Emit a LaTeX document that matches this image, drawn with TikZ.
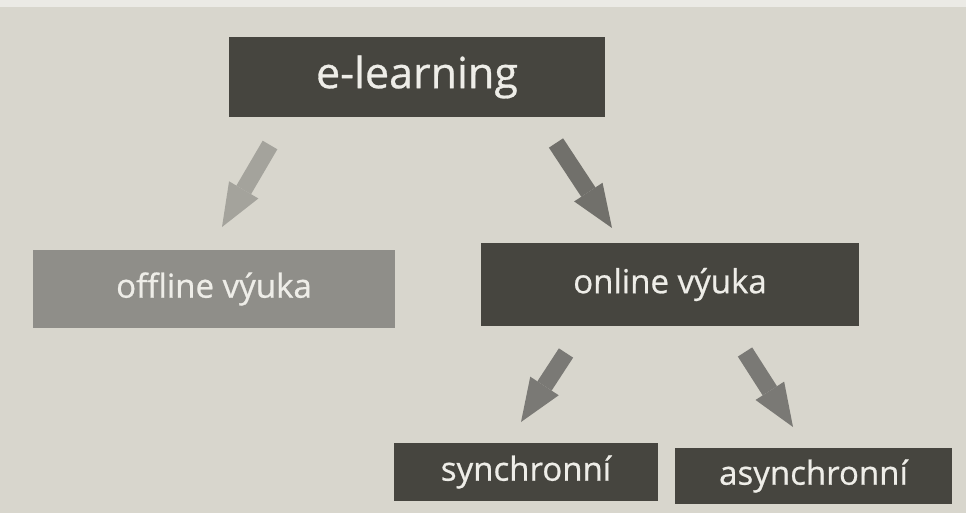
\documentclass[tikz,border=0pt]{standalone}
\usepackage{fontspec}
\setsansfont{Open Sans}[UprightFeatures={FakeBold=0.7}]
\usetikzlibrary{arrows.meta}
\definecolor{paperGray}{HTML}{D8D6CD}
\definecolor{paperEdge}{HTML}{EBEAE5}
\definecolor{boxDark}{HTML}{46453F}
\definecolor{boxLight}{HTML}{8F8E89}
\definecolor{textWhite}{HTML}{EEEDE8}
\definecolor{arrowLight}{HTML}{A4A39C}
\definecolor{arrowDark}{HTML}{71706B}
\definecolor{arrowMid}{HTML}{7A7975}

\begin{document}
\begin{tikzpicture}[x=0.02cm, y=-0.02cm]

    % --- 1. The Page ---
    \fill[paperGray] (0,0) rectangle (966,513);
    \fill[paperEdge] (0,0) rectangle (966,7);


    % --- 2. The Boxes ---
    % common box style
    \tikzstyle{box}=[rectangle, fill=boxDark, text=textWhite, inner sep=0pt, outer sep=0pt, font=\sffamily\fontsize{18.8}{22}\selectfont]

    % Top level
    \node[box, minimum width=7.52cm, minimum height=1.6cm,
          font=\sffamily\fontsize{24.5}{28}\selectfont] (elearn) at (417,77) {e-learning};

    % Second level
    \node[box, fill=boxLight, minimum width=7.24cm, minimum height=1.56cm] (offline) at (214,289) {offline výuka};
    \node[box, minimum width=7.56cm, minimum height=1.66cm] (online) at (670,284.5) {online výuka};

    % Third level
    \node[box, minimum width=5.28cm, minimum height=1.16cm] (sync) at (526,472) {synchronní};
    \node[box, minimum width=5.54cm, minimum height=1.12cm] (async) at (813.5,476) {asynchronní};


    % --- 3. The Arrows ---
    \tikzstyle{bigarrow}=[line width=0.34cm, -{Triangle[width=0.68cm, length=0.86cm, line width=0pt]}]

    % arrow ends (free, between the levels)
    \coordinate (offTail) at (270,145);
    \coordinate (offTip) at (222,227);
    \coordinate (onTail) at (556,143);
    \coordinate (onTip) at (612,228);
    \coordinate (syncTail) at (566,353);
    \coordinate (syncTip) at (521,422);
    \coordinate (asyncTail) at (745,352);
    \coordinate (asyncTip) at (793,427);

    \draw[bigarrow, arrowLight] (offTail) -- (offTip);
    \draw[bigarrow, arrowDark] (onTail) -- (onTip);
    \draw[bigarrow, arrowMid] (syncTail) -- (syncTip);
    \draw[bigarrow, arrowMid] (asyncTail) -- (asyncTip);

\end{tikzpicture}
\end{document}
